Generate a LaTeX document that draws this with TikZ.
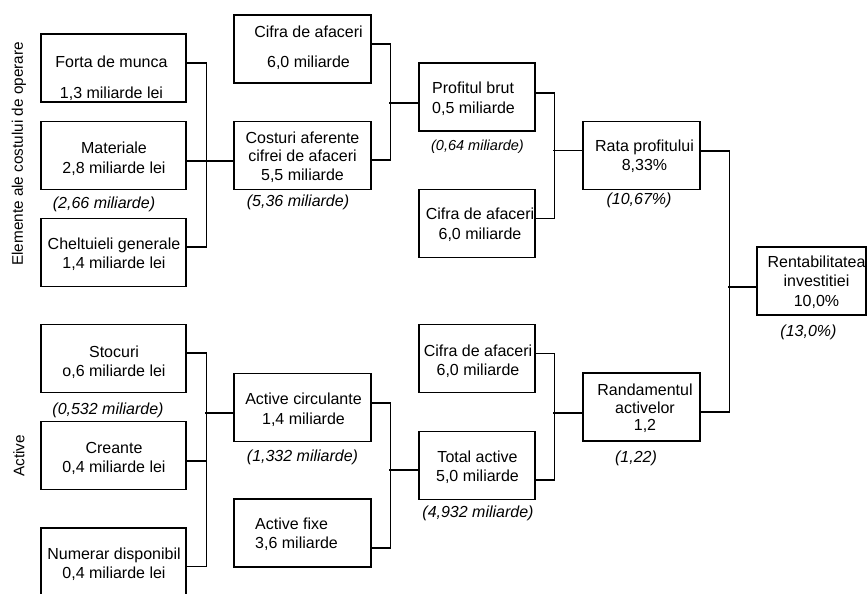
\documentclass[tikz,border=0pt]{standalone}
\usepackage{fontspec}
\setmainfont{Liberation Sans}
\begin{document}
\begin{tikzpicture}[x=1pt,y=-1pt,
  box/.style={draw, line width=1.1pt, inner sep=0pt, minimum height=67.5pt},
  wa/.style={minimum width=145pt},
  wb/.style={minimum width=137pt},
  wc/.style={minimum width=116pt},
  wd/.style={minimum width=117pt},
  txt/.style={align=center, inner sep=0pt, font=\fontsize{16}{19.5}\selectfont},
  est/.style={inner sep=0pt, font=\fontsize{16}{19}\selectfont\itshape},
  side/.style={rotate=90, inner sep=0pt, font=\fontsize{15.3}{18}\selectfont},
  link/.style={line width=1.1pt}]
\useasboundingbox (0,0) rectangle (867,594);

% side captions
\node[side] (ops-l) at (19,154) {Elemente ale costului de operare};
\node[side] (act-l) at (19,456) {Active};

% first column
\node[box, wa, minimum height=68pt] (fm) at (113.5,68) {};
\node[box, wa] (mat) at (113.5,155.5) {};
\node[box, wa] (chg) at (113.5,252.5) {};
\node[box, wa] (sto) at (113.5,358.5) {};
\node[box, wa] (cre) at (113.5,455.5) {};
\node[box, wa, minimum height=68pt] (num) at (113.5,562) {};

% second column
\node[box, wb, minimum height=68pt] (ca1) at (302.5,49) {};
\node[box, wb] (cost) at (302.5,155.5) {};
\node[box, wb] (acirc) at (302.5,407.5) {};
\node[box, wb, minimum height=68pt] (afix) at (302.5,533) {};

% third column
\node[box, wc, minimum height=68pt] (prof) at (477,97) {};
\node[box, wc] (ca2) at (477,223.5) {};
\node[box, wc] (ca3) at (477,358.5) {};
\node[box, wc] (tot) at (477,465.5) {};

% fourth column and result
\node[box, wd] (rata) at (641.5,155.5) {};
\node[box, wd, minimum height=68pt] (rand) at (641.5,407) {};
\node[box, minimum width=109pt, minimum height=68pt] (rent) at (811.5,281) {};

% box texts
\node[txt] (fm-t) at (111.5,78) {Forta de munca\\[11.5pt]1,3 miliarde lei};
\node[txt] (mat-t) at (114,158.5) {Materiale\\2,8 miliarde lei};
\node[txt] (chg-t) at (114,254) {Cheltuieli generale\\1,4 miliarde lei};
\node[txt] (sto-t) at (114,362) {Stocuri\\o,6 miliarde lei};
\node[txt] (cre-t) at (114,458.5) {Creante\\0,4 miliarde lei};
\node[txt] (num-t) at (114,564) {Numerar disponibil\\0,4 miliarde lei};
\node[txt] (ca1-t) at (308.5,48) {Cifra de afaceri\\[10.5pt]6,0 miliarde};
\node[txt] (cost-t) at (302.5,157) {Costuri aferente\\[-1pt]cifrei de afaceri\\[-1pt]5,5 miliarde};
\node[txt, align=left, anchor=west] (prof-t) at (432,98.5) {Profitul brut\\0,5 miliarde};
\node[txt] (ca2-t) at (480,224.5) {Cifra de afaceri\\6,0 miliarde};
\node[txt] (ca3-t) at (478,361) {Cifra de afaceri\\6,0 miliarde};
\node[txt] (tot-t) at (477.5,467) {Total active\\5,0 miliarde};
\node[txt] (acirc-t) at (303.5,409.5) {Active circulante\\1,4 miliarde};
\node[txt, align=left, anchor=west] (afix-t) at (255,534) {Active fixe\\3,6 miliarde};
\node[txt] (rata-t) at (644.5,156) {Rata profitului\\8,33\%};
\node[txt] (rand-t) at (645,408.5) {Randamentul\\[-2pt]activelor\\[-2pt]1,2};
\node[txt] (rent-t) at (816.5,282) {Rentabilitatea\\investitiei\\10,0\%};

% previous-period values
\node[est] (mat-e) at (104,204) {(2,66 miliarde)};
\node[est] (cost-e) at (298,202) {(5,36 miliarde)};
\node[est, font=\fontsize{14.5}{17}\selectfont\itshape] (prof-e) at (477.5,147) {(0,64 miliarde)};
\node[est] (rata-e) at (639,200) {(10,67\%)};
\node[est] (sto-e) at (108,410) {(0,532 miliarde)};
\node[est] (acirc-e) at (302.5,457) {(1,332 miliarde)};
\node[est] (tot-e) at (478,513) {(4,932 miliarde)};
\node[est] (rand-e) at (636,458) {(1,22)};
\node[est] (rent-e) at (808.5,332) {(13,0\%)};

% operating costs -> costs of turnover
\draw[link] ([yshift=5pt]fm.east) -- ++(20,0) |- ([yshift=5.5pt]chg.east);
\draw[link] ([yshift=-5.5pt]mat.east) -- ([yshift=-5.5pt]cost.west);

% turnover and costs -> gross profit
\draw[link] ([yshift=5pt]ca1.east) -- ++(19,0) |- ([yshift=-4.5pt]cost.east);
\draw[link] ([yshift=-6pt]prof.west) -- ++(-29,0);

% gross profit and turnover -> profit rate
\draw[link] ([yshift=4pt]prof.east) -- ++(19,0) |- ([yshift=5.2pt]ca2.east);
\draw[link] ([yshift=5pt]rata.west) -- ++(-29,0);

% profit rate and asset turnover -> return on investment
\draw[link] ([yshift=4.5pt]rata.east) -- ++(29,0) |- ([yshift=-5pt]rand.east);
\draw[link] ([yshift=-6pt]rent.west) -- ++(-28,0);

% current assets
\draw[link] ([yshift=5.5pt]sto.east) -- ++(20,0) |- ([yshift=-4.5pt]num.east);
\draw[link] ([yshift=-5.5pt]cre.east) -- ++(20,0);
\draw[link] ([yshift=-5.5pt]acirc.west) -- ++(-28.5,0);

% total assets
\draw[link] ([yshift=4.5pt]acirc.east) -- ++(19,0) |- ([yshift=-15pt]afix.east);
\draw[link] ([yshift=-4.5pt]tot.west) -- ++(-29,0);

% turnover and total assets -> asset turnover
\draw[link] ([yshift=5.2pt]ca3.east) -- ++(19,0) |- ([yshift=-14.5pt]tot.east);
\draw[link] ([yshift=-6pt]rand.west) -- ++(-29,0);
\end{tikzpicture}
\end{document}
